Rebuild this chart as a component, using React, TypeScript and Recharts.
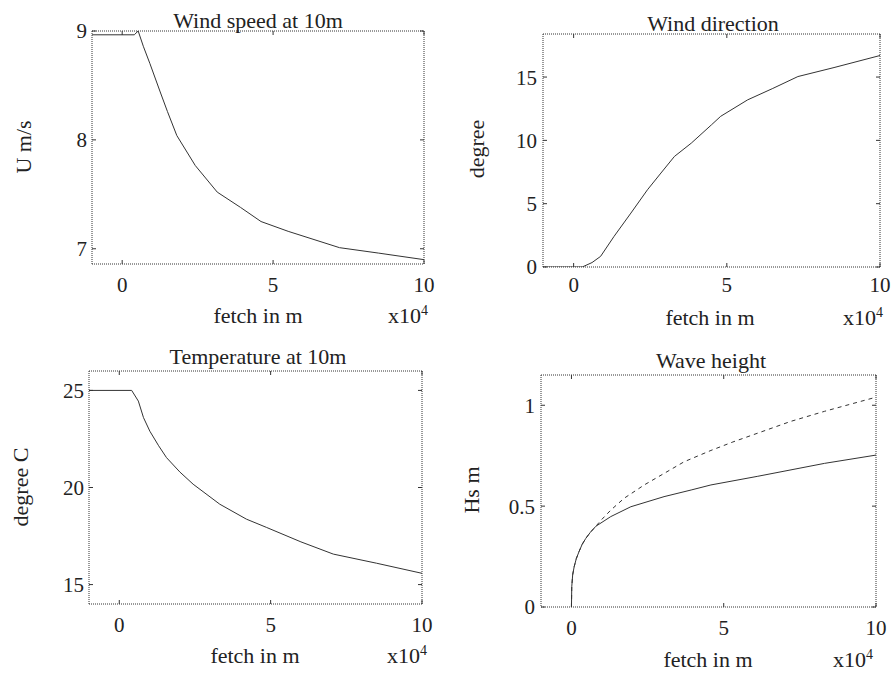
import { Line, LineChart, XAxis, YAxis } from 'recharts';

const PAGE_W = 892;
const PAGE_H = 674;
const FONT = 'Liberation Serif, Times New Roman, serif';

// fetch axis, in units of 1e4 m
const fetchDomain = [-1, 10];
const fetchTicks = [0, 5, 10];

// wind speed at 10m
const speedFetch = [-1, 0.4, 0.53, 0.7, 0.92, 1.26, 1.5, 1.81, 2.42, 3.15, 3.92, 4.6, 5.5, 7.2, 8.5, 10];
const speedU = [8.965, 8.965, 9.0, 8.86, 8.7, 8.44, 8.26, 8.04, 7.765, 7.52, 7.38, 7.25, 7.16, 7.01, 6.96, 6.9];
const speedTicks = [7, 8, 9];

// wind direction
const dirFetch = [-1, 0.28, 0.6, 0.88, 1.32, 1.87, 2.41, 2.85, 3.29, 3.84, 4.5, 4.8, 5.68, 6.5, 7.32, 8.5, 10];
const dirDeg = [0, 0, 0.35, 0.84, 2.42, 4.26, 6.1, 7.42, 8.73, 9.78, 11.23, 11.9, 13.2, 14.1, 15.04, 15.75, 16.7];
const dirTicks = [0, 5, 10, 15];

// temperature at 10m
const tempFetch = [-1, 0.41, 0.63, 0.8, 1.01, 1.3, 1.56, 2.0, 2.44, 3.32, 4.2, 4.87, 6.0, 7.07, 8.5, 10];
const tempC = [25, 25, 24.45, 23.6, 22.9, 22.15, 21.54, 20.8, 20.17, 19.14, 18.37, 17.94, 17.2, 16.57, 16.1, 15.58];
const tempTicks = [15, 20, 25];

// wave height, solid and dashed
const waveFetch = [0, 0.01, 0.04, 0.09, 0.16, 0.25, 0.35, 0.47, 0.62, 0.8, 1.29, 1.95, 3.04, 3.93, 4.58, 6.12, 8.31, 10];
const waveHs = [0, 0.1, 0.16, 0.2, 0.24, 0.275, 0.31, 0.34, 0.37, 0.4, 0.448, 0.497, 0.547, 0.58, 0.605, 0.648, 0.712, 0.753];
const waveFetchB = [0, 0.01, 0.04, 0.09, 0.16, 0.25, 0.35, 0.47, 0.62, 0.8, 0.97, 1.29, 1.73, 2.39, 3.04, 3.7, 4.58, 5.3, 6.12, 7.2, 8.31, 10];
const waveHsB = [0, 0.1, 0.16, 0.2, 0.24, 0.275, 0.31, 0.34, 0.37, 0.4, 0.43, 0.48, 0.539, 0.605, 0.662, 0.72, 0.776, 0.818, 0.862, 0.92, 0.97, 1.04];
const waveTicks = [0, 0.5, 1];

const titles = ['Wind speed at 10m', 'Wind direction', 'Temperature at 10m', 'Wave height'];
const yLabels = ['U m/s', 'degree', 'degree C', 'Hs m'];
const xLabel = 'fetch in m';

const toPoints = (xs: number[], ys: number[]) => xs.map((x, i) => ({ x, y: ys[i] }));

const boxStroke = { stroke: '#333', strokeWidth: 1, strokeDasharray: '1 1' };
const tickText = { fontFamily: FONT, fontSize: 21, fill: '#222' };
// mirrored axes only carry tick marks
const noLabel = () => <g />;

interface Series {
  data: { x: number; y: number }[];
  dashed?: boolean;
}

interface PanelProps {
  rect: [number, number, number, number]; // plot left, top, right, bottom
  yDomain: number[];
  yTicks: number[];
  yGap: number;
  xGap: number;
  series: Series[];
}

function Panel({ rect, yDomain, yTicks, yGap, xGap, series }: PanelProps) {
  const [L, T, R, B] = rect;
  return (
    <div style={{ position: 'absolute', left: 0, top: 0 }}>
      <LineChart
        width={PAGE_W}
        height={PAGE_H}
        margin={{ left: L - 50, top: T - 2, right: PAGE_W - R - 2, bottom: PAGE_H - B - 30 }}
      >
        <XAxis
          xAxisId="b"
          type="number"
          dataKey="x"
          domain={fetchDomain}
          ticks={fetchTicks}
          allowDataOverflow
          interval={0}
          height={30}
          tickSize={-4}
          tickMargin={xGap}
          axisLine={boxStroke}
          tickLine={{ stroke: '#333' }}
          tick={tickText}
        />
        <XAxis
          xAxisId="t"
          orientation="top"
          type="number"
          dataKey="x"
          domain={fetchDomain}
          ticks={fetchTicks}
          allowDataOverflow
          interval={0}
          height={2}
          tickSize={-4}
          axisLine={boxStroke}
          tickLine={{ stroke: '#333' }}
          tick={noLabel}
        />
        <YAxis
          yAxisId="l"
          type="number"
          domain={yDomain}
          ticks={yTicks}
          allowDataOverflow
          interval={0}
          width={50}
          tickSize={-4}
          tickMargin={yGap}
          axisLine={boxStroke}
          tickLine={{ stroke: '#333' }}
          tick={tickText}
        />
        <YAxis
          yAxisId="r"
          orientation="right"
          type="number"
          domain={yDomain}
          ticks={yTicks}
          allowDataOverflow
          interval={0}
          width={2}
          tickSize={-4}
          axisLine={boxStroke}
          tickLine={{ stroke: '#333' }}
          tick={noLabel}
        />
        {series.map((s, i) => (
          <Line
            key={i}
            xAxisId="b"
            yAxisId="l"
            data={s.data}
            dataKey="y"
            type="linear"
            stroke="#333"
            strokeWidth={1}
            strokeDasharray={s.dashed ? '4 4' : undefined}
            dot={false}
            activeDot={false}
            isAnimationActive={false}
          />
        ))}
      </LineChart>
    </div>
  );
}

// text anchors for titles / axis labels per panel
const titlePos = [[258, 28], [713, 31], [258, 364], [711, 368]];
const xLabelPos = [[258, 323], [710, 325], [255, 663], [708, 667]];
const expPos = [[388, 323], [843, 325], [387, 663], [833, 667]];
const yLabelPos = [[31, 147], [484, 149], [28, 487], [479, 490]];

export default function App() {
  const textStyle = { fontFamily: FONT, fontSize: 22, fill: '#222' };
  return (
    <div style={{ position: 'absolute', left: 0, top: 0, width: PAGE_W, height: PAGE_H, background: '#fff' }}>
      <Panel
        rect={[92, 31, 424, 264]}
        yDomain={[6.86, 9.0]}
        yTicks={speedTicks}
        yGap={9}
        xGap={17}
        series={[{ data: toPoints(speedFetch, speedU) }]}
      />
      <Panel
        rect={[543, 34, 880, 267]}
        yDomain={[0, 18.4]}
        yTicks={dirTicks}
        yGap={10}
        xGap={14}
        series={[{ data: toPoints(dirFetch, dirDeg) }]}
      />
      <Panel
        rect={[89, 371, 422, 604]}
        yDomain={[14, 26]}
        yTicks={tempTicks}
        yGap={9}
        xGap={17}
        series={[{ data: toPoints(tempFetch, tempC) }]}
      />
      <Panel
        rect={[541, 375, 876, 607]}
        yDomain={[0, 1.15]}
        yTicks={waveTicks}
        yGap={10}
        xGap={17}
        series={[{ data: toPoints(waveFetch, waveHs) }, { data: toPoints(waveFetchB, waveHsB), dashed: true }]}
      />
      <svg
        width={PAGE_W}
        height={PAGE_H}
        style={{ position: 'absolute', left: 0, top: 0, pointerEvents: 'none' }}
      >
        {titles.map((t, i) => (
          <text key={'t' + i} x={titlePos[i][0]} y={titlePos[i][1]} textAnchor="middle" {...textStyle}>
            {t}
          </text>
        ))}
        {xLabelPos.map((p, i) => (
          <text key={'x' + i} x={p[0]} y={p[1]} textAnchor="middle" {...textStyle}>
            {xLabel}
          </text>
        ))}
        {expPos.map((p, i) => (
          <text key={'e' + i} x={p[0]} y={p[1]} {...textStyle}>
            x10
            <tspan dy={-8} fontSize={14}>
              4
            </tspan>
          </text>
        ))}
        {yLabels.map((t, i) => (
          <text
            key={'y' + i}
            x={yLabelPos[i][0]}
            y={yLabelPos[i][1]}
            textAnchor="middle"
            transform={`rotate(-90 ${yLabelPos[i][0]} ${yLabelPos[i][1]})`}
            {...textStyle}
          >
            {t}
          </text>
        ))}
      </svg>
    </div>
  );
}
